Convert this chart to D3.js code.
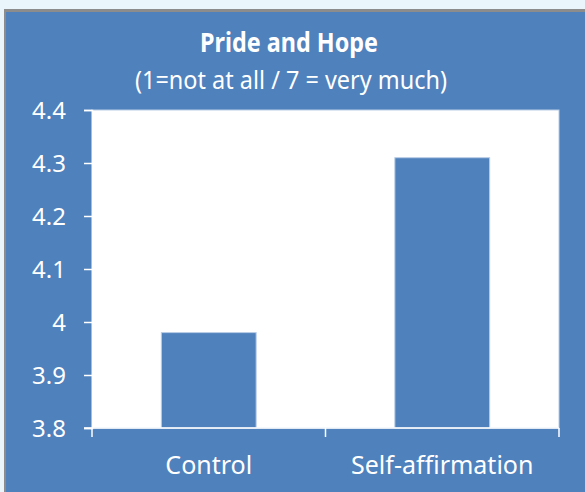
<!DOCTYPE html>
<html>
<head>
<meta charset="utf-8">
<style>
  html, body { margin: 0; padding: 0; background: #eaf4fb; }
  svg { display: block; }
  text { font-family: "Noto Sans", sans-serif; fill: #ffffff; }
</style>
</head>
<body>
<div id="chart"></div>
<script src="https://cdn.jsdelivr.net/npm/d3@7"></script>
<script>
// Pride and Hope bar chart
const categories = ["Control", "Self-affirmation"];
const values = [3.98, 4.31];
const yTicks = [3.8, 3.9, 4.0, 4.1, 4.2, 4.3, 4.4];
const titleLines = ["Pride and Hope", "(1=not at all / 7 = very much)"];

const width = 585, height = 492;
const blue = "#4f81bd";
const plot = { left: 92, right: 559, top: 110, bottom: 428 };

const svg = d3.select("#chart").append("svg")
    .attr("width", width)
    .attr("height", height);

// frame of the chart (cut out of a bigger page)
svg.append("rect")
    .attr("x", 4).attr("y", 9)
    .attr("width", width - 4).attr("height", height - 9)
    .attr("fill", "#8c8c8c");
svg.append("rect")
    .attr("x", 6).attr("y", 12)
    .attr("width", width - 6).attr("height", height - 12)
    .attr("fill", blue);

// plot area
svg.append("rect")
    .attr("x", plot.left).attr("y", plot.top)
    .attr("width", plot.right - plot.left)
    .attr("height", plot.bottom - plot.top)
    .attr("fill", "#ffffff")
    .attr("stroke", "#b9cde5")
    .attr("stroke-width", 1);

const x = d3.scaleBand()
    .domain(categories)
    .range([plot.left, plot.right])
    .paddingInner(0.594)
    .paddingOuter(0.297);

const y = d3.scaleLinear()
    .domain([3.8, 4.4])
    .range([plot.bottom, plot.top]);

// bars
svg.append("g")
    .selectAll("rect")
    .data(values)
    .join("rect")
    .attr("x", (d, i) => x(categories[i]))
    .attr("y", d => y(d))
    .attr("width", x.bandwidth())
    .attr("height", d => y(3.8) - y(d))
    .attr("fill", blue)
    .attr("stroke", "#b9cde5")
    .attr("stroke-width", 1);

// y axis
const yAxis = svg.append("g")
    .attr("transform", `translate(${plot.left},0)`)
    .call(d3.axisLeft(y)
        .tickValues(yTicks)
        .tickFormat(d3.format("~g"))
        .tickSize(8)
        .tickPadding(18));
yAxis.select(".domain").attr("stroke", "#ffffff").attr("stroke-width", 1.5);
yAxis.selectAll(".tick line").attr("stroke", "#ffffff").attr("stroke-width", 1.5);
yAxis.selectAll(".tick text")
    .style("font-size", "24px")
    .attr("dy", "0.36em")
    .attr("fill", "#ffffff");

// x axis line with tick marks between categories
const xAxis = svg.append("g");
xAxis.append("line")
    .attr("x1", plot.left - 8).attr("x2", plot.right)
    .attr("y1", plot.bottom).attr("y2", plot.bottom)
    .attr("stroke", "#ffffff").attr("stroke-width", 1.5);
xAxis.selectAll("line.sep")
    .data([0, 1, 2])
    .join("line")
    .attr("class", "sep")
    .attr("x1", i => plot.left + i * (plot.right - plot.left) / categories.length)
    .attr("x2", i => plot.left + i * (plot.right - plot.left) / categories.length)
    .attr("y1", plot.bottom)
    .attr("y2", plot.bottom + 9)
    .attr("stroke", "#ffffff").attr("stroke-width", 1.5);
xAxis.selectAll("text")
    .data(categories)
    .join("text")
    .attr("x", d => x(d) + x.bandwidth() / 2)
    .attr("y", 474)
    .attr("text-anchor", "middle")
    .style("font-size", "25px")
    .text(d => d);

// title (narrowed to look like the original's condensed face)
svg.append("text")
    .attr("x", 289).attr("y", 52)
    .attr("text-anchor", "middle")
    .attr("textLength", 178)
    .attr("lengthAdjust", "spacingAndGlyphs")
    .style("font-size", "26px")
    .style("font-weight", "bold")
    .text(titleLines[0]);
svg.append("text")
    .attr("x", 291).attr("y", 89)
    .attr("text-anchor", "middle")
    .attr("textLength", 312)
    .attr("lengthAdjust", "spacingAndGlyphs")
    .style("font-size", "26px")
    .text(titleLines[1]);
</script>
</body>
</html>
